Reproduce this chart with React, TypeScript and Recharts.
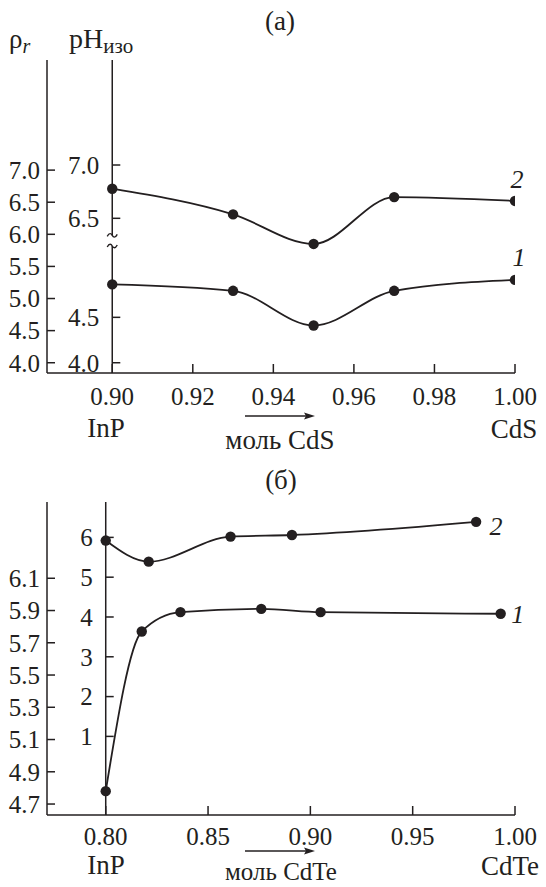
import { LineChart, Line, XAxis, YAxis, ReferenceLine, ReferenceDot, LabelList } from "recharts";

const SERIF = "'Liberation Serif', 'Times New Roman', Tinos, serif";
const INK = "#231f20";

// ---- panel (а): InP–CdS ----
const molA = [0.9, 0.93, 0.95, 0.97, 1.0];
const curve2A = [6.71, 6.31, 5.85, 6.58, 6.52];
const curve1A = [5.22, 5.12, 4.58, 5.12, 5.29];
const xTicksA = [0.9, 0.92, 0.94, 0.96, 0.98, 1.0];
const rhoTicksA = [4.0, 4.5, 5.0, 5.5, 6.0, 6.5, 7.0];
const phLowTicksA = [4.0, 4.5];
const phHighTicksA = [6.5, 7.0];

// ---- panel (б): InP–CdTe ----
const molB1 = [0.8, 0.8176, 0.8365, 0.876, 0.905, 0.993];
const curve1B = [4.78, 5.77, 5.89, 5.91, 5.89, 5.88];
const molB2 = [0.8, 0.821, 0.861, 0.891, 0.981];
const curve2B = [5.92, 5.39, 6.02, 6.06, 6.39];
const xTicksB = [0.8, 0.85, 0.9, 0.95, 1.0];
const rhoTicksB = [4.7, 4.9, 5.1, 5.3, 5.5, 5.7, 5.9, 6.1];
const phTicksB = [1, 2, 3, 4, 5, 6];

const dataA = molA.map((x, i) => ({ x, c1: curve1A[i], c2: curve2A[i] }));
const dataB1 = molB1.map((x, i) => ({ x, y: curve1B[i] }));
const dataB2 = molB2.map((x, i) => ({ x, y: curve2B[i] }));

const tickFont = { fill: INK, fontSize: 25, style: { fontFamily: SERIF } };
const inkLine = { stroke: INK, strokeWidth: 1.5 };
const dot = { r: 5.2, fill: INK, stroke: INK, strokeWidth: 0 };

// italic curve number next to the last point of a series
function curveTag(text: string, count: number, dx: number, dy: number) {
    // eslint-disable-next-line @typescript-eslint/no-explicit-any
    return (p: any) =>
        p.index === count - 1 ? (
            <text
                x={p.x + dx}
                y={p.y + dy}
                textAnchor="middle"
                style={{ fontFamily: SERIF, fontStyle: "italic" }}
                fontSize={26}
                fill={INK}
            >
                {text}
            </text>
        ) : null;
}

// little "~" mark at an axis break
// eslint-disable-next-line @typescript-eslint/no-explicit-any
const breakMark = (p: any) => (
    <path
        d={`M${p.cx - 5} ${p.cy + 1} C${p.cx - 3} ${p.cy - 3} ${p.cx - 1} ${p.cy - 2} ${p.cx} ${p.cy} S${p.cx + 3} ${p.cy + 3} ${p.cx + 5} ${p.cy - 1}`}
        fill="none"
        stroke={INK}
        strokeWidth={1.4}
    />
);

function innerTick(axisId: string, x0: number, len: number, v: number, text: string) {
    return (
        <ReferenceLine
            key={axisId + v}
            yAxisId={axisId}
            ifOverflow="visible"
            segment={[
                { x: x0, y: v },
                { x: x0 + len, y: v },
            ]}
            {...inkLine}
            label={{ value: text, position: "left", offset: 13, ...tickFont }}
        />
    );
}

function Arrow({ x1, x2, y }: { x1: number; x2: number; y: number }) {
    return (
        <g>
            <line x1={x1} y1={y} x2={x2 - 8} y2={y} stroke={INK} strokeWidth={1.5} />
            <path d={`M${x2} ${y} L${x2 - 11} ${y - 3.5} L${x2 - 9} ${y} L${x2 - 11} ${y + 3.5} Z`} fill={INK} />
        </g>
    );
}

export default function App() {
    return (
        <div
            style={{
                position: "absolute",
                left: 0,
                top: 0,
                width: 546,
                height: 887,
                background: "#fff",
                fontFamily: SERIF,
            }}
        >
            <div style={{ position: "absolute", left: 0, top: 0 }}>
                <LineChart width={546} height={460} data={dataA} margin={{ top: 60, right: 31, bottom: 57, left: 0 }}>
                    <XAxis
                        type="number"
                        dataKey="x"
                        domain={[0.8838, 1.0]}
                        allowDataOverflow
                        ticks={xTicksA}
                        interval={0}
                        tickFormatter={(v: number) => v.toFixed(2)}
                        height={30}
                        tickSize={-9}
                        tickMargin={23}
                        tick={tickFont}
                        axisLine={inkLine}
                        tickLine={inkLine}
                    />
                    <YAxis
                        yAxisId="a_rho"
                        type="number"
                        domain={[3.84, 8.715]}
                        allowDataOverflow
                        ticks={rhoTicksA}
                        interval={0}
                        tickFormatter={(v: number) => v.toFixed(1)}
                        width={47}
                        tickSize={-8}
                        tickMargin={15}
                        tick={tickFont}
                        axisLine={inkLine}
                        tickLine={inkLine}
                    />
                    <YAxis yAxisId="lo" type="number" hide width={0} domain={[3.887, 7.334]} allowDataOverflow />
                    <YAxis yAxisId="hi" type="number" hide width={0} domain={[5.049, 7.985]} allowDataOverflow />

                    <ReferenceLine
                        yAxisId="lo"
                        ifOverflow="visible"
                        segment={[
                            { x: 0.9, y: 3.887 },
                            { x: 0.9, y: 5.285 },
                        ]}
                        {...inkLine}
                    />
                    <ReferenceLine
                        yAxisId="hi"
                        ifOverflow="visible"
                        segment={[
                            { x: 0.9, y: 6.34 },
                            { x: 0.9, y: 7.985 },
                        ]}
                        {...inkLine}
                    />
                    {phLowTicksA.map((v) => innerTick("lo", 0.9, 0.002, v, v.toFixed(1)))}
                    {phHighTicksA.map((v) => innerTick("hi", 0.9, 0.002, v, v.toFixed(1)))}
                    <ReferenceDot yAxisId="hi" x={0.9} y={6.34} r={0} shape={breakMark} />
                    <ReferenceDot yAxisId="lo" x={0.9} y={5.285} r={0} shape={breakMark} />

                    <Line
                        yAxisId="a_rho"
                        dataKey="c2"
                        type="monotone"
                        stroke={INK}
                        strokeWidth={1.8}
                        dot={dot}
                        activeDot={false}
                        isAnimationActive={false}
                    >
                        <LabelList dataKey="c2" content={curveTag("2", molA.length, 2, -13)} />
                    </Line>
                    <Line
                        yAxisId="a_rho"
                        dataKey="c1"
                        type="monotone"
                        stroke={INK}
                        strokeWidth={1.8}
                        dot={dot}
                        activeDot={false}
                        isAnimationActive={false}
                    >
                        <LabelList dataKey="c1" content={curveTag("1", molA.length, 4, -14)} />
                    </Line>
                </LineChart>
            </div>

            <div style={{ position: "absolute", left: 0, top: 470 }}>
                <LineChart width={546} height={417} margin={{ top: 32, right: 31, bottom: 42, left: 0 }}>
                    <XAxis
                        type="number"
                        dataKey="x"
                        domain={[0.7713, 1.0]}
                        allowDataOverflow
                        ticks={xTicksB}
                        interval={0}
                        tickFormatter={(v: number) => v.toFixed(2)}
                        height={30}
                        tickSize={-9}
                        tickMargin={21}
                        tick={tickFont}
                        axisLine={inkLine}
                        tickLine={inkLine}
                    />
                    <YAxis
                        yAxisId="a_rho"
                        type="number"
                        domain={[4.632, 6.573]}
                        allowDataOverflow
                        ticks={rhoTicksB}
                        interval={0}
                        tickFormatter={(v: number) => v.toFixed(1)}
                        width={47}
                        tickSize={-8}
                        tickMargin={15}
                        tick={tickFont}
                        axisLine={inkLine}
                        tickLine={inkLine}
                    />
                    <YAxis yAxisId="ph" type="number" hide width={0} domain={[-0.975, 6.889]} allowDataOverflow />

                    <ReferenceLine yAxisId="ph" x={0.8} ifOverflow="visible" {...inkLine} />
                    {phTicksB.map((v) => innerTick("ph", 0.8, 0.0039, v, String(v)))}

                    <Line
                        yAxisId="ph"
                        data={dataB2}
                        dataKey="y"
                        type="monotone"
                        stroke={INK}
                        strokeWidth={1.8}
                        dot={dot}
                        activeDot={false}
                        isAnimationActive={false}
                    >
                        <LabelList dataKey="y" content={curveTag("2", molB2.length, 20, 13)} />
                    </Line>
                    <Line
                        yAxisId="a_rho"
                        data={dataB1}
                        dataKey="y"
                        type="monotone"
                        stroke={INK}
                        strokeWidth={1.8}
                        dot={dot}
                        activeDot={false}
                        isAnimationActive={false}
                    >
                        <LabelList dataKey="y" content={curveTag("1", molB1.length, 17, 9)} />
                    </Line>
                </LineChart>
            </div>

            <svg
                width={546}
                height={887}
                style={{ position: "absolute", left: 0, top: 0, pointerEvents: "none", fontFamily: SERIF }}
                fill={INK}
            >
                <text x={280} y={30} fontSize={27} textAnchor="middle">(а)</text>
                <text x={9} y={48} fontSize={27}>
                    ρ<tspan fontStyle="italic" fontSize={20} dy={5}>r</tspan>
                </text>
                <text x={69} y={48} fontSize={28}>
                    pH<tspan fontSize={21} dy={5}>изо</tspan>
                </text>
                <text x={106} y={437} fontSize={27} textAnchor="middle">InP</text>
                <Arrow x1={245} x2={315} y={416} />
                <text x={280} y={449} fontSize={27} textAnchor="middle">моль CdS</text>
                <text x={514} y={438} fontSize={27} textAnchor="middle">CdS</text>

                <text x={281} y={489} fontSize={27} textAnchor="middle">(б)</text>
                <text x={106} y={874} fontSize={27} textAnchor="middle">InP</text>
                <Arrow x1={245} x2={315} y={851} />
                <text x={281} y={880} fontSize={25} textAnchor="middle">моль CdTe</text>
                <text x={510} y={875} fontSize={27} textAnchor="middle">CdTe</text>
            </svg>
        </div>
    );
}
